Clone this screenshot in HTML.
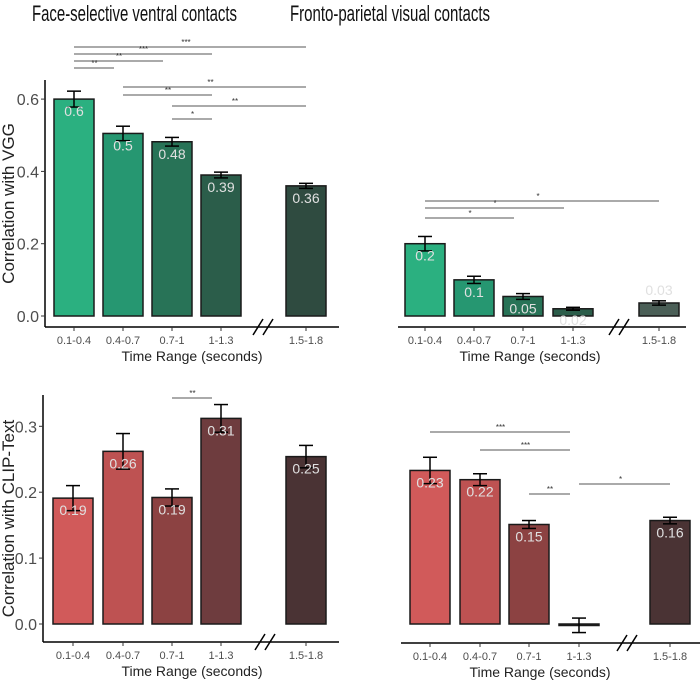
<!DOCTYPE html>
<html><head><meta charset="utf-8"><style>
html,body{margin:0;padding:0;background:#fff}
svg{display:block;font-family:"Liberation Sans",sans-serif}
</style></head><body>
<svg id="chart" width="700" height="680" viewBox="0 0 700 680" xmlns="http://www.w3.org/2000/svg">
<text x="32" y="21" font-size="22" textLength="205" lengthAdjust="spacingAndGlyphs" fill="#111">Face-selective ventral contacts</text>
<text x="290" y="21" font-size="22" textLength="200" lengthAdjust="spacingAndGlyphs" fill="#111">Fronto-parietal visual contacts</text>
</svg>
<script>
const categories = ["0.1-0.4","0.4-0.7","0.7-1","1-1.3","1.5-1.8"];
const vggFace = [0.6, 0.505, 0.482, 0.39, 0.36];
const vggFaceErr = [0.022, 0.02, 0.012, 0.008, 0.007];
const vggFaceLabels = ["0.6","0.5","0.48","0.39","0.36"];
const vggFP = [0.2, 0.1, 0.054, 0.02, 0.036];
const vggFPErr = [0.02, 0.01, 0.008, 0.004, 0.006];
const vggFPLabels = ["0.2","0.1","0.05","0.02","0.03"];
const clipFace = [0.191, 0.262, 0.192, 0.312, 0.254];
const clipFaceErr = [0.019, 0.027, 0.013, 0.021, 0.017];
const clipFaceLabels = ["0.19","0.26","0.19","0.31","0.25"];
const clipFP = [0.233, 0.219, 0.151, -0.002, 0.157];
const clipFPErr = [0.02, 0.009, 0.006, 0.011, 0.005];
const clipFPLabels = ["0.23","0.22","0.15","0","0.16"];
const vggTicks = [0, 0.2, 0.4, 0.6];
const clipTicks = [0, 0.1, 0.2, 0.3];
// significance comparisons: [fromIndex, toIndex, stars]
const sigVggFace = [[0,4,"***"],[0,3,"***"],[0,2,"**"],[0,1,"**"],[1,4,"**"],[1,3,"**"],[2,4,"**"],[2,3,"*"]];
const sigVggFP = [[0,4,"*"],[0,3,"*"],[0,2,"*"]];
const sigClipFace = [[2,3,"**"]];
const sigClipFP = [[0,3,"***"],[1,3,"***"],[2,3,"**"],[3,4,"*"]];
const greens = ["#2bb080","#269771","#287357","#2b5d4a","#2f4b40"];
const greensFP = ["#2bb080","#269771","#287357","#2b5d4a","#4b5f57"];
const reds = ["#d15a5a","#be5252","#8c4242","#6e3c3e","#4a3334"];

const svg = document.getElementById('chart');
const NS = "http://www.w3.org/2000/svg";
function mk(tag, attrs, parent){const e=document.createElementNS(NS,tag);for(const k in attrs)e.setAttribute(k,attrs[k]);(parent||svg).appendChild(e);return e;}

function panel(p){
  const g = mk('g',{});
  
  
  const y = v => p.y0 - v*p.scale;
  const x = i => p.cx[i];
  if(p.yaxis){
    const ya=mk('line',{x1:p.axL,x2:p.axL,y1:p.axTop,y2:p.axY,stroke:"#000","stroke-width":1.5},g);
    
    
    p.ticks.forEach(t=>{
      mk('line',{x1:p.axL-4,x2:p.axL,y1:y(t),y2:y(t),stroke:"#333","stroke-width":1},g);
      const tt=mk('text',{x:p.axL-6,y:y(t)+6,"font-size":16,"text-anchor":"end",fill:"#4d4d4d"},g);
      tt.textContent=t.toFixed(1);
      
      
    });
    const yt=mk('text',{x:0,y:0,"font-size":17,"text-anchor":"middle",fill:"#222",transform:`translate(14,${(p.axTop+p.axY)/2}) rotate(-90)`},g);
    yt.textContent=p.ytitle;
    
    
  }
  const xa=mk('line',{x1:p.axL,x2:p.axR,y1:p.axY,y2:p.axY,stroke:"#000","stroke-width":1.5},g);
  
  
  const bx=p.brk;
  [-5,5].forEach(d=>mk('line',{x1:bx+d-5,y1:p.axY+8,x2:bx+d+5,y2:p.axY-8,stroke:"#000","stroke-width":1.5},g));
  categories.forEach((c,i)=>{
    mk('line',{x1:x(i),x2:x(i),y1:p.axY,y2:p.axY+4,stroke:"#333"},g);
    const t=mk('text',{x:x(i),y:p.axY+17,"font-size":11,"text-anchor":"middle",fill:"#4d4d4d"},g);
    t.textContent=c;
    
    
  });
  const xt=mk('text',{x:p.xtitleX,y:p.axY+34,"font-size":14,"text-anchor":"middle",fill:"#222"},g);
  xt.textContent="Time Range (seconds)";
  
  
  p.vals.forEach((v,i)=>{
    const top=Math.min(y(v),y(0)), h=Math.max(Math.abs(y(v)-y(0)),1.5);
    const b=mk('rect',{x:x(i)-20,y:top,width:40,height:h,fill:p.colors[i],stroke:"#1a1a1a","stroke-width":1.5},g);
    
    
    const e=p.err[i], y1=y(v+e), y2=y(v-e);
    mk('line',{x1:x(i),x2:x(i),y1:y1,y2:y2,stroke:"#000","stroke-width":1.5},g);
    mk('line',{x1:x(i)-7,x2:x(i)+7,y1:y1,y2:y1,stroke:"#000","stroke-width":1.5},g);
    mk('line',{x1:x(i)-7,x2:x(i)+7,y1:y2,y2:y2,stroke:"#000","stroke-width":1.5},g);
    if(p.labels[i]!=="0"){
      let ly=y(v)+17;
      if(p.labelPos && p.labelPos[i]==='above') ly=y(v)-8;
      if(p.labelPos && p.labelPos[i]==='below') ly=y(0)+9;
      const lt=mk('text',{x:x(i),y:ly,"font-size":14,"text-anchor":"middle",fill:"#e0e0e0"},g);
      lt.textContent=p.labels[i];
      
      
    }
  });
  p.sig.forEach((s,k)=>{
    const ly=p.sigY[k];
    const l=mk('line',{x1:x(s[0]),x2:x(s[1])-(s[1]===4?0:9),y1:ly,y2:ly,stroke:"#555","stroke-width":1},g);
    
    
    const t=mk('text',{x:(x(s[0])+x(s[1]))/2-4,y:ly-2,"font-size":8,"text-anchor":"middle",fill:"#333"},g);
    t.textContent=s[2];
  });
}

panel({name:'panel-vgg-face',vals:vggFace,err:vggFaceErr,labels:vggFaceLabels,colors:greens,ticks:vggTicks,yaxis:true,ytitle:"Correlation with VGG",
  y0:316,scale:361.5,axL:45,axR:339,axTop:80,axY:327,brk:263,cx:[74,123,172,221,306],xtitleX:192,
  sig:sigVggFace,sigY:[47,54,61,68,87,95,106,119]});
panel({name:'panel-vgg-fronto',vals:vggFP,err:vggFPErr,labels:vggFPLabels,colors:greensFP,ticks:vggTicks,yaxis:false,
  y0:316,scale:361.5,axL:398,axR:686,axTop:80,axY:327,brk:619,cx:[425,474,523,573,659],xtitleX:530,labelPos:[null,null,null,'below','above'],
  sig:sigVggFP,sigY:[201,208,218]});
panel({name:'panel-clip-face',vals:clipFace,err:clipFaceErr,labels:clipFaceLabels,colors:reds,ticks:clipTicks,yaxis:true,ytitle:"Correlation with CLIP-Text",
  y0:624,scale:659,axL:43,axR:339,axTop:395,axY:642,brk:265,cx:[73,123,172,221,306],xtitleX:192,
  sig:sigClipFace,sigY:[398]});
panel({name:'panel-clip-fronto',vals:clipFP,err:clipFPErr,labels:clipFPLabels,colors:reds,ticks:clipTicks,yaxis:false,
  y0:624,scale:659,axL:401,axR:700,axTop:395,axY:643,brk:627,cx:[430,480,529,579,670],xtitleX:540,
  sig:sigClipFP,sigY:[432,450,494,484]});
</script>
</body></html>
